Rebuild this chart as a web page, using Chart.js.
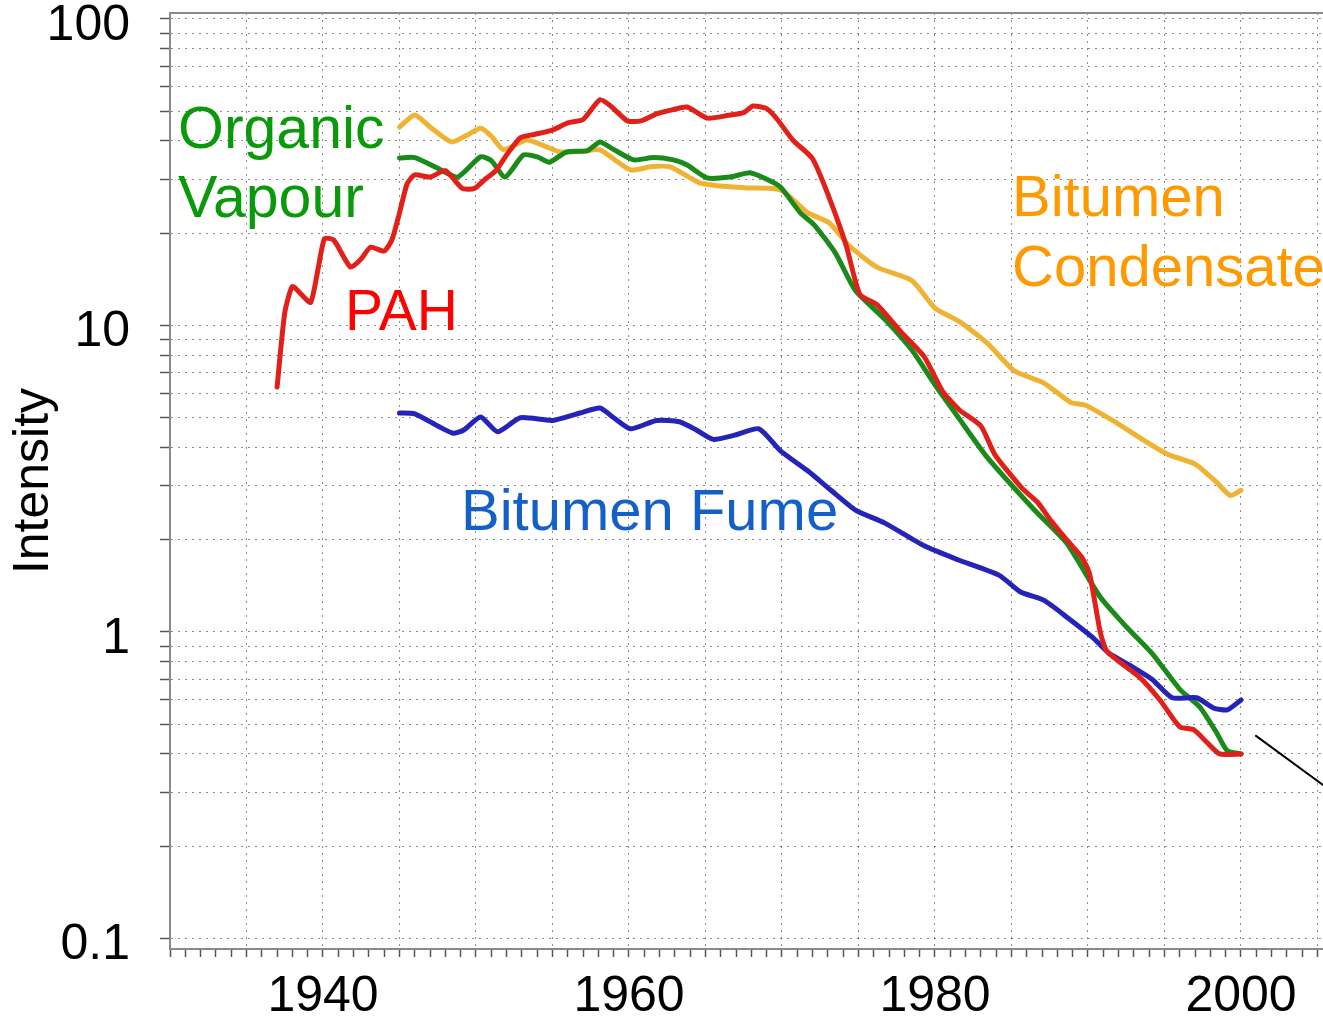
<!DOCTYPE html>
<html>
<head>
<meta charset="utf-8">
<script src="https://cdn.jsdelivr.net/npm/chart.js@4.4.1/dist/chart.umd.min.js"></script>
<style>
html,body{margin:0;padding:0;background:#fff;}
#wrap{width:1323px;height:1022px;position:relative;}
</style>
</head>
<body>
<div id="wrap"><canvas id="c"></canvas></div>
<script>
// ---- data ----
const pahYears = [1937,1937.5,1938,1938.6,1939.2,1939.7,1940.1,1940.7,1941.8,1942.5,1943.1,1944.0,1944.5,1945.0,1945.5,1946.0,1947.0,1948.0,1949.1,1949.9,1950.6,1951.3,1952.0,1952.9,1953.8,1955.0,1956.0,1957.0,1958.1,1958.8,1959.9,1960.8,1961.8,1962.8,1963.8,1965.1,1966.5,1967.5,1968.1,1969.0,1969.7,1970.7,1972.0,1973.1,1974.2,1975.1,1976.2,1977.8,1979.3,1980.5,1981.6,1983.0,1983.9,1985.7,1986.7,1987.6,1988.6,1989.6,1990.1,1990.8,1991.2,1991.9,1993.4,1994.7,1996.0,1996.9,1997.8,1998.6,2000];
const pahValues = [6.3,11,13.4,12.6,11.9,15.5,19.2,19,15.5,16.5,18,17.5,19,23.3,29,31,30.5,32,28,28,30,32,36,41,42,43.4,45.8,47,54.5,52,46.5,46.5,49,50.5,51.6,47.5,48.5,49.5,52,51,47,40.3,35,26,18.2,12.6,11.7,9.5,7.9,6.1,5.3,4.7,3.8,2.94,2.65,2.3,2.0,1.75,1.55,1.0,0.87,0.81,0.71,0.60,0.49,0.48,0.435,0.40,0.40];

const vapourYears = [1945,1946,1947.5,1948.8,1950.3,1951.0,1951.9,1953.1,1954.0,1954.8,1955.9,1957.3,1958.1,1959.0,1960.3,1961.6,1962.9,1963.8,1965.1,1966.6,1967.9,1969.0,1969.9,1971.2,1972.1,1973.5,1974.8,1976.7,1978.5,1980.0,1981.6,1983.4,1986.5,1988.6,1990.8,1992.5,1994.2,1996.0,1997.3,1998.4,1999.1,2000];
const vapourValues = [35.2,35.3,32.6,30.5,35.5,34.5,30.5,36,35.5,34.1,36.8,37.2,39.7,37.5,34.7,35.3,34.7,33.4,30.3,30.5,31.5,30,28.3,23.3,21.3,17.2,13,10.5,8.3,6.4,4.95,3.72,2.5,1.95,1.3,1.04,0.85,0.65,0.57,0.47,0.41,0.40];

const condensateYears = [1945,1946,1947,1948.4,1949.5,1950.3,1951.0,1951.8,1953.3,1954.5,1955.5,1957.0,1958.1,1960.1,1961.5,1962.7,1964.6,1966.0,1967.7,1969.9,1971.7,1973.1,1974.4,1976.2,1978.5,1980.0,1981.6,1983.4,1985.2,1987.1,1988.9,1989.8,1991.6,1993.4,1995.2,1997.0,1998.4,1999.3,2000];
const condensateValues = [44.4,48.6,44.4,39.7,42,44,41.5,37.5,40.3,38.5,36.8,37,37.4,32.2,33,32.9,29.2,28.5,28.1,27.7,23.3,21.6,18.2,15.5,14,11.4,10.3,8.77,7.1,6.5,5.6,5.5,4.9,4.3,3.8,3.53,3.08,2.79,2.9];

const fumeYears = [1945,1946,1947.5,1948.5,1949.2,1950.3,1951.4,1952.9,1955.0,1956.8,1958.1,1959.0,1960.1,1961.8,1963.3,1964.4,1965.5,1967.0,1968.5,1969.9,1971.7,1973.2,1974.8,1976.7,1979.3,1981.5,1984.2,1985.6,1987.1,1988.6,1990.3,1991.4,1992.9,1994.2,1995.5,1997.1,1998.2,1999.1,2000];
const fumeValues = [5.18,5.15,4.7,4.45,4.56,5.03,4.5,5.0,4.9,5.18,5.38,5.0,4.6,4.9,4.85,4.56,4.25,4.4,4.6,3.9,3.35,2.9,2.5,2.27,1.91,1.72,1.53,1.35,1.27,1.12,0.96,0.85,0.77,0.70,0.61,0.61,0.565,0.557,0.6];

const pointerYears = [2000.98, 2005.36];
const pointerValues = [0.458, 0.317];

const xLabelYears = [1940, 1960, 1980, 2000];
const yLabelValues = [0.1, 1, 10, 100];

// ---- helpers ----
const pts = (xs, ys) => xs.map((x, i) => ({x: x, y: ys[i]}));
const xTickYears = [];
for (let y = 1930; y <= 2005; y++) xTickYears.push(y);
const yGridValues = [];
[0.1, 1, 10].forEach(d => { for (let k = 1; k <= 9; k++) yGridValues.push(Number((k * d).toPrecision(6))); });
yGridValues.push(100);

const FONT = "'Liberation Sans', Arial, sans-serif";
const GRID = 'rgba(0,0,0,0.45)';

const frameAndLabels = {
  id: 'frameAndLabels',
  afterDraw(chart) {
    const {ctx, chartArea} = chart;
    ctx.save();
    ctx.strokeStyle = '#8a8a8a';
    ctx.lineWidth = 2;
    ctx.beginPath();
    ctx.moveTo(chartArea.left, chartArea.top);
    ctx.lineTo(chartArea.right, chartArea.top);
    ctx.stroke();
    ctx.textBaseline = 'alphabetic';
    ctx.textAlign = 'left';
    const labels = [
      ['Organic', 178, 148, '#0a990a', 59],
      ['Vapour', 178, 217, '#0a990a', 59],
      ['PAH', 345, 330, '#ff0000', 57],
      ['Bitumen Fume', 461, 530, '#1560c8', 58],
      ['Bitumen', 1012, 216, '#ff9900', 58],
      ['Condensate', 1012, 286, '#ff9900', 58]
    ];
    labels.forEach(([t, x, y, c, s]) => {
      ctx.fillStyle = c;
      ctx.font = s + 'px ' + FONT;
      ctx.fillText(t, x, y);
    });
    ctx.restore();
  }
};

new Chart(document.getElementById('c'), {
  type: 'line',
  data: {
    datasets: [
      {label: 'PAH', data: pts(pahYears, pahValues), borderColor: '#e1201a', borderWidth: 5, tension: 0.2},
      {label: 'Bitumen Fume', data: pts(fumeYears, fumeValues), borderColor: '#2424b8', borderWidth: 5, tension: 0.2},
      {label: 'Organic Vapour', data: pts(vapourYears, vapourValues), borderColor: '#1a8a1a', borderWidth: 5, tension: 0.2},
      {label: 'Bitumen Condensate', data: pts(condensateYears, condensateValues), borderColor: '#efb333', borderWidth: 5, tension: 0.2},
      {label: 'pointer', data: pts(pointerYears, pointerValues), borderColor: '#000', borderWidth: 2, tension: 0}
    ]
  },
  options: {
    responsive: true,
    maintainAspectRatio: false,
    animation: false,
    elements: {point: {radius: 0, hoverRadius: 0}, line: {fill: false, borderCapStyle: 'round', borderJoinStyle: 'round'}},
    layout: {padding: {top: 13, right: 0, left: 0, bottom: 0}},
    plugins: {legend: {display: false}, tooltip: {enabled: false}},
    scales: {
      x: {
        type: 'linear',
        min: 1930,
        max: 2005.36,
        afterBuildTicks: s => { s.ticks = xTickYears.map(v => ({value: v})); },
        afterFit: s => { s.height = 73; s.paddingLeft = 0; s.paddingRight = 0; },
        border: {display: true, color: '#8a8a8a', width: 2, dash: [2, 5]},
        grid: {
          color: c => (c.tick && c.tick.value % 5 === 0) ? GRID : 'rgba(0,0,0,0)',
          lineWidth: 1,
          drawTicks: true,
          tickLength: 8,
          tickColor: '#555',
          tickWidth: 1.5,
          tickBorderDash: []
        },
        ticks: {
          autoSkip: false,
          maxRotation: 0,
          minRotation: 0,
          padding: 10,
          color: '#000',
          font: {size: 50, family: FONT},
          callback: v => xLabelYears.includes(v) ? String(v) : ''
        }
      },
      y: {
        type: 'logarithmic',
        min: 0.0924,
        max: 104.6,
        afterBuildTicks: s => { s.ticks = yGridValues.map(v => ({value: v, major: yLabelValues.includes(v)})); },
        afterFit: s => { s.width = 170; s.paddingTop = 0; s.paddingBottom = 0; },
        border: {display: true, color: '#8a8a8a', width: 2, dash: [2, 5]},
        grid: {
          color: GRID,
          lineWidth: 1,
          drawTicks: true,
          tickLength: 10,
          tickColor: '#555',
          tickWidth: 1.5,
          tickBorderDash: []
        },
        ticks: {
          autoSkip: false,
          padding: 30,
          labelOffset: 7,
          color: '#000',
          font: {size: 50, family: FONT},
          callback: v => yLabelValues.includes(v) ? String(v) : ''
        },
        title: {
          display: true,
          text: 'Intensity',
          color: '#000',
          font: {size: 50, family: FONT},
          padding: {top: 4, bottom: 0}
        }
      }
    }
  },
  plugins: [frameAndLabels]
});
</script>
</body>
</html>
